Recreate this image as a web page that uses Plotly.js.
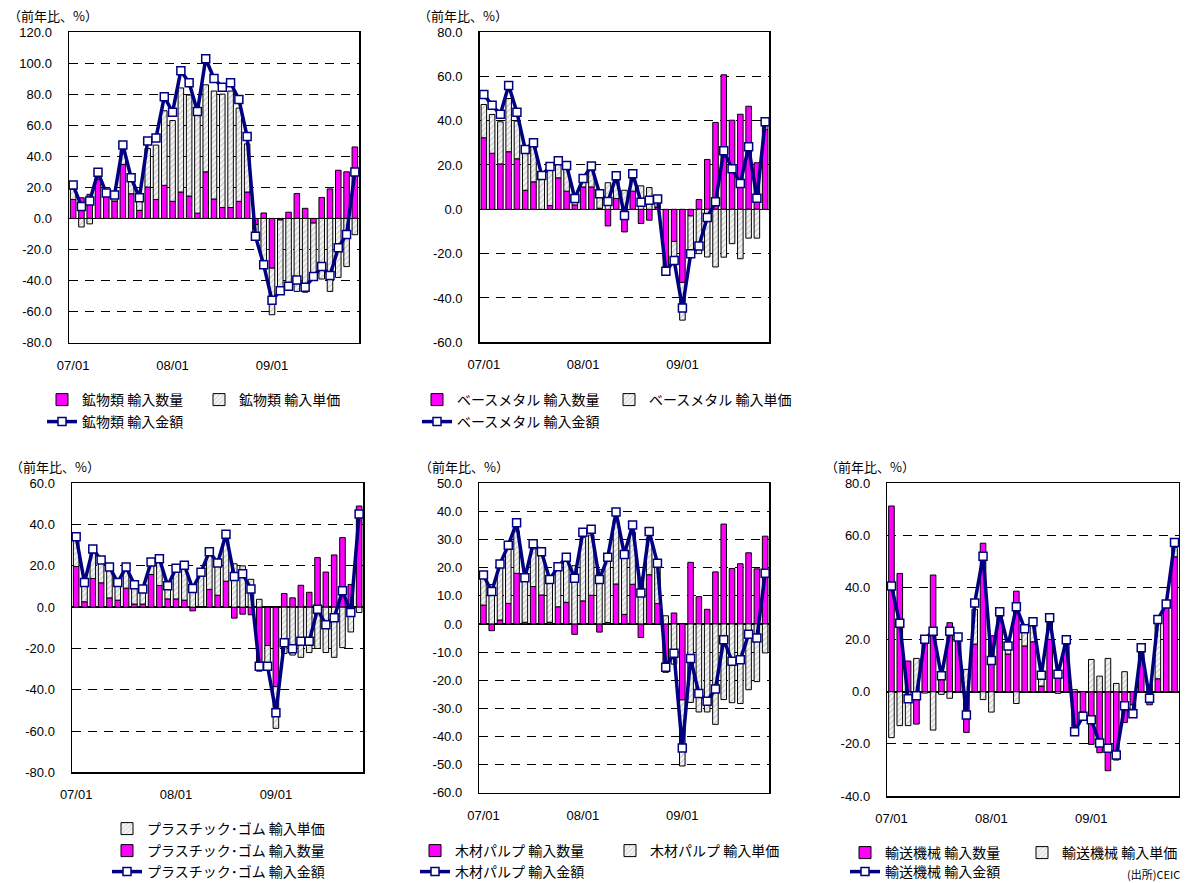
<!DOCTYPE html>
<html>
<head>
<meta charset="utf-8">
<script src="https://cdn.plot.ly/plotly-3.0.1.min.js"></script>
<style>
  html, body { margin: 0; padding: 0; background: #ffffff; }
  #chart { width: 1190px; height: 883px; }
</style>
</head>
<body>
<div id="chart"></div>
<script>
// Months, Jan 2007 - Nov 2009
const months = [
  '07/01','07/02','07/03','07/04','07/05','07/06','07/07','07/08','07/09','07/10','07/11','07/12',
  '08/01','08/02','08/03','08/04','08/05','08/06','08/07','08/08','08/09','08/10','08/11','08/12',
  '09/01','09/02','09/03','09/04','09/05','09/06','09/07','09/08','09/09','09/10','09/11'
];
const yearTicks = ['07/01', '08/01', '09/01'];

// 鉱物類 (year-on-year, %)
const mineralQty   = [12.2, 13.3, 15.5, 25.2, 13.7, 11.2, 34.8, 15.9, 5.2, 20.2, 12.2, 21.3, 11.0, 17.0, 14.4, 3.4, 30.0, 12.5, 7.0, 7.0, 11.0, 17.0, -4.0, 3.5, -32.0, -1.0, 4.0, 16.0, 6.5, -3.0, 13.5, 19.0, 31.0, 30.0, 46.0];
const mineralPrice = [6.5, -5.5, -3.5, 4.0, 2.3, 3.5, 9.0, 8.5, 7.7, 24.8, 35.0, 48.0, 52.0, 67.0, 65.0, 63.6, 56.0, 69.5, 73.0, 75.0, 60.0, 31.0, -7.5, -32.0, -30.0, -45.0, -46.0, -47.0, -47.5, -36.0, -39.0, -47.0, -38.0, -31.0, -10.5];
const mineralValue = [21.5, 7.7, 11.2, 29.7, 16.3, 15.1, 47.3, 26.2, 13.3, 49.9, 51.8, 78.3, 68.4, 95.1, 87.3, 68.8, 102.8, 90.1, 84.5, 87.3, 76.6, 52.7, -11.4, -29.9, -52.7, -46.5, -43.7, -39.6, -44.3, -37.4, -31.0, -36.8, -18.9, -10.3, 29.9];

// ベースメタル
const metalQty   = [32.3, 25.3, 20.5, 26.0, 22.8, 8.6, 12.4, 0.0, 1.7, 14.2, 8.2, 2.0, 10.1, 10.1, 0.5, -7.5, 4.9, -10.2, 8.2, -6.4, -4.9, 1.0, -26.0, -14.5, -33.0, -3.0, 4.4, 22.5, 39.2, 60.7, 40.2, 42.9, 46.5, 21.0, 36.0];
const metalPrice = [15.0, 17.5, 19.0, 24.0, 17.0, 17.0, 16.0, 15.3, 17.0, 7.0, 11.0, 3.0, 4.0, 9.0, 6.5, 12.0, 9.7, 8.6, 7.0, 10.6, 9.8, 3.5, -3.0, -8.0, -17.0, -17.5, -20.0, -21.5, -26.0, -21.6, -15.5, -22.3, -13.0, -13.0, 2.5];
const metalValue = [51.8, 46.9, 42.9, 55.9, 43.8, 27.0, 30.0, 15.3, 19.3, 21.9, 19.8, 4.9, 13.9, 19.5, 7.0, 3.5, 15.1, -2.8, 16.0, 3.2, 4.1, 4.6, -28.0, -23.1, -44.5, -20.1, -16.5, -3.7, 3.4, 26.4, 18.3, 11.7, 28.2, 5.0, 39.5];

// プラスチック･ゴム
const plasticQty   = [19.7, 2.6, 13.9, 11.8, 4.5, 3.4, 9.2, 1.5, 1.5, 15.8, 10.5, 4.0, 4.0, 3.4, -1.8, 0.3, 8.6, 5.8, 12.6, -5.3, -3.4, -3.7, -31.0, -18.6, -38.5, 6.6, 4.5, 10.6, 7.2, 24.0, 17.0, 25.3, 33.7, 11.0, 49.0];
const plasticPrice = [14.0, 9.4, 14.0, 11.0, 15.0, 8.6, 10.5, 9.5, 7.2, 6.0, 12.5, 6.3, 15.5, 17.3, 10.7, 16.2, 17.4, 15.5, 22.4, 21.0, 20.0, 13.5, 3.8, -11.5, -20.2, -22.4, -23.2, -24.3, -22.0, -20.0, -22.0, -24.3, -19.6, -12.0, -2.6];
const plasticValue = [34.1, 11.9, 28.2, 22.9, 19.5, 11.9, 19.5, 10.8, 8.8, 21.9, 23.5, 10.4, 18.9, 20.3, 9.0, 16.9, 26.9, 21.4, 35.3, 14.8, 16.2, 8.8, -28.6, -28.6, -51.1, -17.3, -20.1, -16.5, -16.5, -1.0, -8.5, -5.1, 8.0, -2.6, 45.1];

// 木材パルプ
const woodQty   = [6.7, -2.4, 1.4, 7.3, 18.0, 0.6, 13.3, 10.3, 0.6, 6.1, 7.7, -3.7, 8.2, 10.2, -2.9, 0.5, 14.2, 3.4, 14.1, -4.8, 17.5, 7.3, -17.2, 3.9, -27.0, 21.9, 9.7, 5.2, 18.5, 35.5, 19.7, 21.4, 25.3, 19.6, 31.2];
const woodPrice = [10.0, 14.0, 19.6, 19.3, 15.0, 15.7, 13.4, 14.0, 15.1, 13.4, 15.0, 20.7, 22.6, 21.4, 19.3, 23.0, 22.6, 20.6, 18.5, 16.6, 13.1, 13.3, 2.9, -14.3, -23.5, -27.9, -31.3, -31.3, -35.7, -26.9, -28.0, -28.3, -23.4, -20.5, -10.3];
const woodValue = [17.4, 11.5, 21.3, 28.0, 36.0, 16.4, 28.5, 25.7, 15.8, 20.3, 23.7, 16.2, 32.6, 33.7, 15.8, 23.7, 39.8, 24.7, 35.2, 11.0, 32.9, 21.6, -15.4, -10.4, -44.1, -12.3, -24.7, -27.5, -23.1, -5.6, -13.3, -12.7, -3.7, -5.0, 18.0];

// 輸送機械
const transportQty   = [71.3, 45.4, 11.8, -12.4, 21.1, 44.8, 7.0, 26.5, 21.0, -15.6, 18.3, 57.0, 21.5, 29.0, 14.5, 38.6, 17.6, 19.2, 2.2, 20.1, 7.3, 19.9, -16.0, -7.7, -20.2, -23.4, -30.3, -26.2, -11.8, -5.0, 17.0, -5.0, 5.0, 33.0, 51.8];
const transportPrice = [-17.6, -13.0, -13.0, 12.8, -0.5, -14.7, -1.0, -2.5, 0.0, 8.6, 13.3, -3.0, -7.8, 1.3, 2.7, -4.5, 5.6, 6.5, 4.0, 7.0, -0.6, 0.0, 0.8, -1.8, 12.4, 6.0, 12.8, 3.2, 7.7, -3.5, 0.0, 2.7, 21.6, 0.5, 3.6];
const transportValue = [40.6, 26.3, -2.7, -1.5, 20.2, 23.2, 6.1, 23.2, 21.0, -8.9, 34.1, 52.0, 12.0, 30.7, 17.6, 32.6, 24.2, 26.9, 6.3, 28.4, 6.7, 20.0, -15.3, -9.4, -10.7, -19.7, -21.7, -24.3, -5.4, -8.4, 16.9, -2.5, 27.7, 33.7, 57.3];

const unitLabel = '（前年比、%）';
const sourceLabel = '(出所)CEIC';

// ---- page geometry (pixels) ----
const W = 1190, H = 883;
const fx = v => v / W;
const fy = v => 1 - v / H;

const JP = '"Noto Sans CJK JP", "Noto Sans", sans-serif';
const NUM = '"Liberation Sans", Arial, sans-serif';

// Each panel: plot box [left, top, right, bottom] in px, y range, and legend rows
const panels = [
  { name: '鉱物類', qty: mineralQty, price: mineralPrice, value: mineralValue,
    box: [69, 32, 359, 342.7], yr: [-80, 120], dy: 20, unit: [6, 16],
    rows: [{ items: ['qty', 'price'], x: 42, y: 400, ew: 112 }, { items: ['value'], x: 42, y: 422 }] },
  { name: 'ベースメタル', qty: metalQty, price: metalPrice, value: metalValue,
    box: [479.7, 32, 769.3, 342.3], yr: [-60, 80], dy: 20, unit: [416, 16],
    rows: [{ items: ['qty', 'price'], x: 417, y: 400, ew: 147 }, { items: ['value'], x: 417, y: 422 }] },
  { name: 'プラスチック･ゴム', qty: plasticQty, price: plasticPrice, value: plasticValue,
    box: [72, 483.3, 363.3, 772.3], yr: [-80, 60], dy: 20, unit: [8, 466],
    rows: [{ items: ['price'], x: 107, y: 829 }, { items: ['qty'], x: 107, y: 851 }, { items: ['value'], x: 107, y: 872 }] },
  { name: '木材パルプ', qty: woodQty, price: woodPrice, value: woodValue,
    box: [479.3, 483.3, 769.3, 792.7], yr: [-60, 50], dy: 10, unit: [417, 466],
    rows: [{ items: ['qty', 'price'], x: 415, y: 851, ew: 150 }, { items: ['value'], x: 415, y: 872 }] },
  { name: '輸送機械', qty: transportQty, price: transportPrice, value: transportValue,
    box: [887.3, 483.3, 1178.7, 796], yr: [-40, 80], dy: 20, unit: [823, 466],
    rows: [{ items: ['qty', 'price'], x: 845, y: 853, ew: 132 }, { items: ['value'], x: 845, y: 872 }] }
];

const traces = [];
const layout = {
  width: W, height: H,
  margin: { l: 0, r: 0, t: 0, b: 0, autoexpand: false },
  paper_bgcolor: '#ffffff', plot_bgcolor: '#ffffff',
  barmode: 'relative', bargap: 0.33,
  showlegend: true,
  font: { family: NUM, size: 13, color: '#000' },
  annotations: [],
};

let legendCount = 0;
panels.forEach((p, i) => {
  const k = i === 0 ? '' : String(i + 1);
  const xa = 'x' + k, ya = 'y' + k;
  const [l, t, r, b] = p.box;

  // one legend per legend row
  const legendOf = {};
  p.rows.forEach(row => {
    legendCount += 1;
    const lid = legendCount === 1 ? 'legend' : 'legend' + legendCount;
    row.items.forEach(it => { legendOf[it] = lid; });
    const lg = {
      orientation: 'h', x: fx(row.x), y: fy(row.y), xanchor: 'left', yanchor: 'middle',
      bgcolor: 'rgba(0,0,0,0)', borderwidth: 0,
      font: { family: JP, size: 14, color: '#000' },
      itemwidth: 30, tracegroupgap: 0,
    };
    if (row.ew) lg.entrywidth = row.ew;
    layout[lid] = lg;
  });

  traces.push({
    type: 'bar', x: months, y: p.qty, xaxis: xa, yaxis: ya,
    name: p.name + ' 輸入数量', legend: legendOf.qty,
    marker: { color: '#ff00ff', line: { color: '#000000', width: 1 } },
    hoverinfo: 'skip'
  });
  traces.push({
    type: 'bar', x: months, y: p.price, xaxis: xa, yaxis: ya,
    name: p.name + ' 輸入単価', legend: legendOf.price,
    marker: { color: '#f4f4f4', line: { color: '#000000', width: 1 },
              pattern: { shape: '/', fgcolor: '#c4c4c4', bgcolor: '#f4f4f4', size: 4, solidity: 0.25 } },
    hoverinfo: 'skip'
  });
  traces.push({
    type: 'scatter', mode: 'lines+markers', x: months, y: p.value, xaxis: xa, yaxis: ya,
    name: p.name + ' 輸入金額', legend: legendOf.value,
    line: { color: '#000080', width: 3.5 },
    marker: { symbol: 'square', size: 8, color: '#ffffff', line: { color: '#000080', width: 1.5 } },
    cliponaxis: false,
    hoverinfo: 'skip'
  });

  const yticks = [];
  for (let v = p.yr[0]; v <= p.yr[1] + 1e-9; v += p.dy) yticks.push(v);

  layout['xaxis' + k] = {
    domain: [fx(l), fx(r)], anchor: ya,
    type: 'category', range: [-0.5, months.length - 0.5],
    tickmode: 'array', tickvals: yearTicks, ticktext: yearTicks,
    ticks: 'outside', ticklen: 10, tickcolor: 'rgba(0,0,0,0)',
    tickfont: { family: NUM, size: 13, color: '#000' },
    showgrid: false, zeroline: false,
    showline: true, linecolor: '#000', linewidth: 1.5, mirror: true,
    fixedrange: true
  };
  layout['yaxis' + k] = {
    domain: [fy(b), fy(t)], anchor: xa,
    range: p.yr,
    tickmode: 'array', tickvals: yticks, ticktext: yticks.map(v => v.toFixed(1)),
    ticks: 'outside', ticklen: 13, tickcolor: 'rgba(0,0,0,0)',
    tickfont: { family: NUM, size: 13, color: '#000' },
    showgrid: true, gridcolor: '#000', gridwidth: 1, griddash: '9px,7px',
    zeroline: true, zerolinecolor: '#000', zerolinewidth: 1.5,
    showline: true, linecolor: '#000', linewidth: 1.5, mirror: true,
    fixedrange: true
  };

  layout.annotations.push({
    xref: 'paper', yref: 'paper', x: fx(p.unit[0]), y: fy(p.unit[1]),
    xanchor: 'left', yanchor: 'middle', showarrow: false,
    text: unitLabel, font: { family: JP, size: 13, color: '#000' }
  });
});

layout.annotations.push({
  xref: 'paper', yref: 'paper', x: fx(1182), y: fy(874),
  xanchor: 'right', yanchor: 'middle', showarrow: false,
  text: sourceLabel, font: { family: JP, size: 11, color: '#000' }
});

Plotly.newPlot('chart', traces, layout, { displayModeBar: false, staticPlot: true });
</script>
</body>
</html>
